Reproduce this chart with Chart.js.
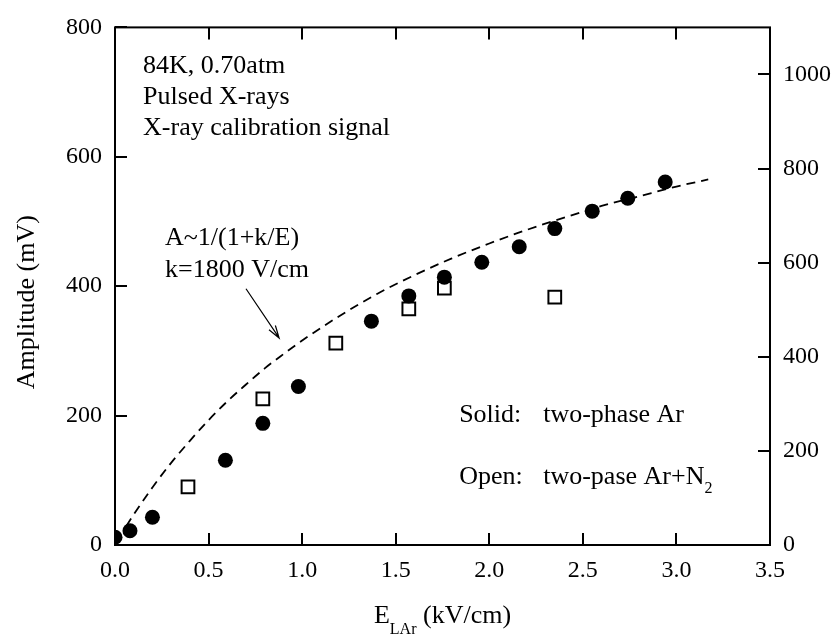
<!DOCTYPE html>
<html>
<head>
<meta charset="utf-8">
<script src="https://cdn.jsdelivr.net/npm/chart.js@4.4.0/dist/chart.umd.min.js"></script>
<style>
  html, body { margin: 0; padding: 0; background: #fff; }
  #wrap { width: 838px; height: 639px; }
</style>
</head>
<body>
<div id="wrap"><canvas id="chart" width="838" height="639"></canvas></div>
<script>
// Solid circles: two-phase Ar
const solidE = [0.0, 0.08, 0.20, 0.59, 0.79, 0.98, 1.37, 1.57, 1.76, 1.96, 2.16, 2.35, 2.55, 2.74, 2.94];
const solidAmp = [12, 22, 43, 131, 188, 245, 346, 385, 414, 437, 461, 489, 516, 536, 561];

// Open squares: two-phase Ar+N2
const openE = [0.39, 0.79, 1.18, 1.57, 1.76, 2.35];
const openAmp = [90, 226, 312, 365, 397, 383];

// dashed curve A~1/(1+k/E)
const fitE = [0.06, 0.1, 0.2, 0.3, 0.4, 0.5, 0.6, 0.7, 0.8, 0.9, 1.0, 1.2, 1.4, 1.6, 1.8, 2.0, 2.2, 2.4, 2.6, 2.8, 3.0, 3.17];
const fitAmp = [29, 47, 89, 127, 161, 193, 222, 248, 273, 295, 316, 354, 388, 417, 443, 466, 487, 506, 524, 539, 554, 565];

const xTicks = [0, 0.5, 1.0, 1.5, 2.0, 2.5, 3.0, 3.5];
const leftTicks = [0, 200, 400, 600, 800];
const rightTicks = [0, 200, 400, 600, 800, 1000];

const FONT = "'Liberation Serif', 'Times New Roman', serif";
const BIG = '26px ' + FONT;
const SUB = '16px ' + FONT;
Chart.defaults.color = '#000';
Chart.defaults.font.family = FONT;
Chart.defaults.font.size = 24;

const toXY = (xs, ys) => xs.map((x, i) => ({ x: x, y: ys[i] }));

// inward ticks, frame and the text annotations
const framePlugin = {
  id: 'framePlugin',
  afterDatasetsDraw(chart) {
    const ctx = chart.ctx;
    const a = chart.chartArea;
    const sx = chart.scales.x, sy = chart.scales.y, sy2 = chart.scales.y2;
    const TL = 12;
    ctx.save();
    ctx.strokeStyle = '#000';
    ctx.lineWidth = 2;
    ctx.strokeRect(a.left, a.top, a.right - a.left, a.bottom - a.top);
    ctx.beginPath();
    xTicks.forEach(v => {
      const px = Math.round(sx.getPixelForValue(v));
      ctx.moveTo(px, a.bottom); ctx.lineTo(px, a.bottom - TL);
      ctx.moveTo(px, a.top); ctx.lineTo(px, a.top + TL);
    });
    leftTicks.forEach(v => {
      const py = Math.round(sy.getPixelForValue(v));
      ctx.moveTo(a.left, py); ctx.lineTo(a.left + TL, py);
    });
    rightTicks.forEach(v => {
      const py = Math.round(sy2.getPixelForValue(v));
      ctx.moveTo(a.right, py); ctx.lineTo(a.right - TL, py);
    });
    ctx.stroke();

    const px = v => sx.getPixelForValue(v);
    const py = v => sy.getPixelForValue(v);

    ctx.fillStyle = '#000';
    ctx.textBaseline = 'alphabetic';
    ctx.textAlign = 'left';
    ctx.font = BIG;

    // conditions block
    const condX = px(0.15), condY = py(730);
    ctx.fillText('84K, 0.70atm', condX, condY);
    ctx.fillText('Pulsed X-rays', condX, condY + 31);
    ctx.fillText('X-ray calibration signal', condX, condY + 62);

    // fit formula
    const fX = px(0.267), fY = py(463);
    ctx.fillText('A~1/(1+k/E)', fX, fY);
    ctx.fillText('k=1800 V/cm', fX, fY + 32);

    // arrow to the curve
    const ax0 = px(0.70), ay0 = py(396), ax1 = px(0.877), ay1 = py(320);
    const ang = Math.atan2(ay1 - ay0, ax1 - ax0);
    ctx.lineWidth = 1.2;
    ctx.beginPath();
    ctx.moveTo(ax0, ay0); ctx.lineTo(ax1, ay1);
    ctx.moveTo(ax1 - 13 * Math.cos(ang - 0.3), ay1 - 13 * Math.sin(ang - 0.3));
    ctx.lineTo(ax1, ay1);
    ctx.lineTo(ax1 - 13 * Math.cos(ang + 0.3), ay1 - 13 * Math.sin(ang + 0.3));
    ctx.stroke();

    // legend text
    const lx1 = px(1.839), lx2 = px(2.288);
    ctx.fillText('Solid:', lx1, py(190.5));
    ctx.fillText('two-phase Ar', lx2, py(190.5));
    const oy = py(94.5);
    ctx.fillText('Open:', lx1, oy);
    ctx.fillText('two-pase Ar+N', lx2, oy);
    const wN = ctx.measureText('two-pase Ar+N').width;
    ctx.font = SUB;
    ctx.fillText('2', lx2 + wN, oy + 9);

    // x axis title with subscript
    ctx.font = BIG;
    const wE = ctx.measureText('E').width;
    const wRest = ctx.measureText(' (kV/cm)').width;
    ctx.font = SUB;
    const wSub = ctx.measureText('LAr').width;
    const total = wE + wSub + wRest;
    const tx = (a.left + a.right) / 2 - total / 2;
    const ty = a.bottom + 78;
    ctx.font = BIG;
    ctx.fillText('E', tx, ty);
    ctx.font = SUB;
    ctx.fillText('LAr', tx + wE, ty + 11);
    ctx.font = BIG;
    ctx.fillText(' (kV/cm)', tx + wE + wSub, ty);

    // y axis title
    ctx.save();
    ctx.translate(34, (a.top + a.bottom) / 2 + 16);
    ctx.rotate(-Math.PI / 2);
    ctx.textAlign = 'center';
    ctx.fillText('Amplitude (mV)', 0, 0);
    ctx.restore();

    ctx.restore();
  }
};

new Chart(document.getElementById('chart'), {
  type: 'scatter',
  data: {
    datasets: [
      {
        label: 'fit',
        data: toXY(fitE, fitAmp),
        showLine: true,
        borderColor: '#000',
        borderWidth: 1.8,
        borderDash: [9, 6],
        pointRadius: 0,
        cubicInterpolationMode: 'monotone',
        yAxisID: 'y'
      },
      {
        label: 'Solid: two-phase Ar',
        data: toXY(solidE, solidAmp),
        pointStyle: 'circle',
        pointRadius: 7.5,
        backgroundColor: '#000',
        borderColor: '#000',
        borderWidth: 0,
        clip: 0,
        yAxisID: 'y'
      },
      {
        label: 'Open: two-pase Ar+N2',
        data: toXY(openE, openAmp),
        pointStyle: 'rect',
        pointRadius: 9,
        backgroundColor: '#fff',
        borderColor: '#000',
        borderWidth: 2,
        yAxisID: 'y'
      }
    ]
  },
  options: {
    responsive: false,
    animation: false,
    layout: { padding: { top: 20, left: 0, right: 0, bottom: 0 }, autoPadding: false },
    plugins: {
      legend: { display: false },
      tooltip: { enabled: false }
    },
    scales: {
      x: {
        type: 'linear',
        min: 0,
        max: 3.5,
        afterBuildTicks: s => { s.ticks = xTicks.map(v => ({ value: v })); },
        afterFit: s => { s.height = 94; },
        grid: { display: false, drawTicks: false },
        border: { display: false },
        ticks: { padding: 11, callback: v => Number(v).toFixed(1) }
      },
      y: {
        type: 'linear',
        position: 'left',
        min: 0,
        max: 800,
        afterBuildTicks: s => { s.ticks = leftTicks.map(v => ({ value: v })); },
        afterFit: s => { s.width = 115; },
        grid: { display: false, drawTicks: false },
        border: { display: false },
        ticks: { padding: 13, callback: v => String(v) }
      },
      y2: {
        type: 'linear',
        position: 'right',
        min: 0,
        max: 1100,
        afterBuildTicks: s => { s.ticks = rightTicks.map(v => ({ value: v })); },
        afterFit: s => { s.width = 68; },
        grid: { display: false, drawTicks: false },
        border: { display: false },
        ticks: { padding: 13, callback: v => String(v) }
      }
    }
  },
  plugins: [framePlugin]
});
</script>
</body>
</html>
